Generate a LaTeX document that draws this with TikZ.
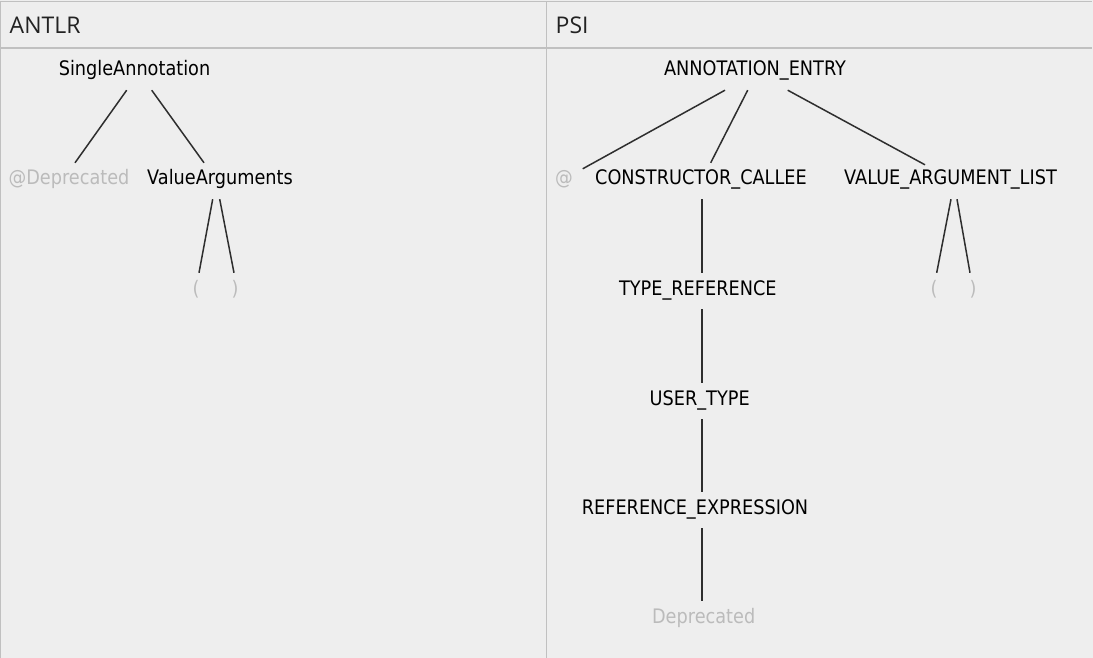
\documentclass[tikz,border=0pt]{standalone}
\usepackage{fontspec}
\newfontfamily\tfont[FakeStretch=0.885]{DejaVu Sans}
\newfontfamily\hfont{Open Sans}
\definecolor{bg}{HTML}{EEEEEE}
\definecolor{frame}{HTML}{C0C0C0}
\definecolor{edge}{HTML}{2E2E2E}
\definecolor{tok}{HTML}{BBBBBB}
\definecolor{head}{HTML}{222222}
\tikzset{
  tn/.style={font=\tfont\fontsize{20}{24}\selectfont, text=black, anchor=base,
    inner xsep=0pt, inner ysep=9pt, text height=13pt, text depth=5pt},
  tk/.style={tn, text=tok},
  hd/.style={font=\hfont\fontsize{23}{28}\selectfont, text=head, anchor=base west, inner sep=0pt},
  ed/.style={draw=edge, line width=1.5pt},
  fr/.style={draw=frame, line width=1pt}
}
\begin{document}
\begin{tikzpicture}[x=1pt,y=1pt]
\fill[bg] (0,0) rectangle (1093,-658);
\useasboundingbox (0,0) rectangle (1093,-658);
% frame
\draw[fr] (0.5,-658) -- (0.5,-1.3) -- (1091.5,-1.3);
\draw[frame, line width=2pt] (0,-48) -- (1092,-48);
\draw[fr] (546.5,-1.3) -- (546.5,-658);
% headers
\node[hd] (hantlr) at (9.5,-34) {ANTLR};
\node[hd] (hpsi) at (555.5,-34) {PSI};
% ANTLR tree
\node[tn] (sa) at (134.5,-76) {SingleAnnotation};
\node[tk] (dep1) at (69,-185) {@Deprecated};
\node[tn] (va) at (220,-185) {ValueArguments};
\node[tk] (lp1) at (196,-295) {(};
\node[tk] (rp1) at (235,-295) {)};
\draw[ed] ([xshift=-7.8pt]sa.south) -- ([xshift=6pt]dep1.north);
\draw[ed] ([xshift=17.2pt]sa.south) -- ([xshift=-16pt]va.north);
\draw[ed] ([xshift=-7.3pt]va.south) -- ([xshift=3pt]lp1.north);
\draw[ed] ([xshift=-0.3pt]va.south) -- ([xshift=-1pt]rp1.north);
% PSI tree
\node[tn] (ae) at (755,-76) {ANNOTATION\_ENTRY};
\node[tk] (at) at (564,-185) {@};
\node[tn] (cc) at (701,-185) {CONSTRUCTOR\_CALLEE};
\node[tn] (val) at (950.5,-185) {VALUE\_ARGUMENT\_LIST};
\node[tk] (lp2) at (934,-295) {(};
\node[tk] (rp2) at (973,-295) {)};
\node[tn] (tr) at (697.8,-295) {TYPE\_REFERENCE};
\node[tn] (ut) at (699.7,-405) {USER\_TYPE};
\node[tn] (re) at (695,-514) {REFERENCE\_EXPRESSION};
\node[tk] (dp) at (703.7,-623.5) {Deprecated};
\draw[ed] ([xshift=-30pt]ae.south) -- ([xshift=18.7pt,yshift=-6pt]at.north);
\draw[ed] ([xshift=-7.3pt]ae.south) -- ([xshift=9.7pt]cc.north);
\draw[ed] ([xshift=32.7pt]ae.south) -- ([xshift=-25.5pt,yshift=-2pt]val.north);
\draw[ed] ([xshift=0.5pt]val.south) -- ([xshift=2.7pt]lp2.north);
\draw[ed] ([xshift=6.5pt]val.south) -- ([xshift=-3pt]rp2.north);
\draw[ed] ([xshift=1pt]cc.south) -- ([xshift=4.2pt]tr.north);
\draw[ed] ([xshift=4.2pt]tr.south) -- ([xshift=2.3pt]ut.north);
\draw[ed] ([xshift=2.3pt]ut.south) -- ([xshift=7pt]re.north);
\draw[ed] ([xshift=7pt]re.south) -- ([xshift=-1.7pt]dp.north);
\end{tikzpicture}
\end{document}
